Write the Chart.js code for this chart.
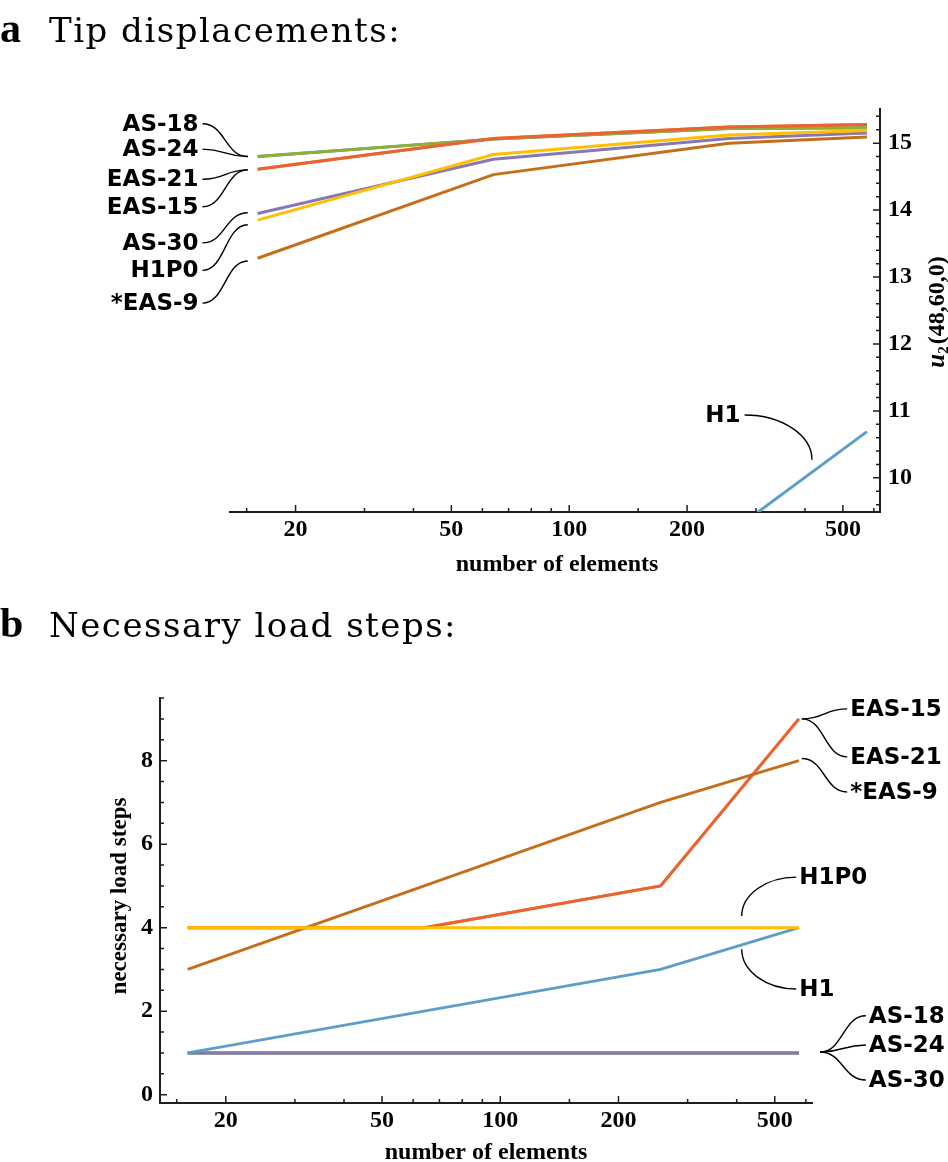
<!DOCTYPE html>
<html>
<head>
<meta charset="utf-8">
<script src="https://cdn.jsdelivr.net/npm/chart.js@4.4.1/dist/chart.umd.min.js"></script>
<style>
  html, body { margin: 0; padding: 0; background: #fff; }
  body { width: 948px; height: 1162px; position: relative; overflow: hidden; }
  #chartA { position: absolute; left: 0; top: 0; }
  #chartB { position: absolute; left: 0; top: 590px; }
</style>
</head>
<body>
<canvas id="chartA" width="948" height="600"></canvas>
<canvas id="chartB" width="948" height="572"></canvas>
<script>
// Mesh sizes (number of elements)
const elements = [16, 64, 256, 576];

// Series, in drawing order (later ones lie on top)
const seriesNames  = ['AS-18', 'EAS-15', 'AS-24', 'EAS-21', 'AS-30', '*EAS-9', 'H1', 'H1P0'];
const seriesColors = ['#5e81b5', '#e19c24', '#8fb032', '#eb6235', '#8778b3', '#c56e1a', '#5d9ec7', '#ffbf00'];

// a: tip displacement u2(48,60,0)
const dispAS18  = [14.80, 15.06, 15.22, 15.23];
const dispEAS15 = [14.61, 15.07, 15.24, 15.28];
const dispAS24  = [14.80, 15.06, 15.22, 15.23];
const dispEAS21 = [14.61, 15.07, 15.24, 15.28];
const dispAS30  = [13.95, 14.76, 15.07, 15.15];
const dispEAS9  = [13.28, 14.53, 15.00, 15.09];
const dispH1    = [4.2, 6.6, 9.17, 10.69];
const dispH1P0  = [13.85, 14.83, 15.12, 15.19];

// b: necessary load steps
const stepsAS18  = [1, 1, 1, 1];
const stepsEAS15 = [4, 4, 5, 9];
const stepsAS24  = [1, 1, 1, 1];
const stepsEAS21 = [4, 4, 5, 9];
const stepsAS30  = [1, 1, 1, 1];
const stepsEAS9  = [3, 5, 7, 8];
const stepsH1    = [1, 2, 3, 4];
const stepsH1P0  = [4, 4, 4, 4];

// Tick values
const xMajorTicks = [20, 50, 100, 200, 500];
const xMinorTicks = [15, 30, 40, 60, 70, 80, 90, 150, 300, 400, 600];
const dispMajorTicks = [10, 11, 12, 13, 14, 15];
const dispMinorTicks = [9.6, 9.8, 10.2, 10.4, 10.6, 10.8, 11.2, 11.4, 11.6, 11.8, 12.2, 12.4,
                        12.6, 12.8, 13.2, 13.4, 13.6, 13.8, 14.2, 14.4, 14.6, 14.8, 15.2, 15.4];
const stepsMajorTicks = [0, 2, 4, 6, 8];
const stepsMinorTicks = [0.5, 1, 1.5, 2.5, 3, 3.5, 4.5, 5, 5.5, 6.5, 7, 7.5, 8.5, 9, 9.5];

// Callouts: text, text x, text y, leader target x, target y, leader shape
const calloutsA = [
    ['AS-18', 11.3, 15.29, 15.1, 14.80, 'S'],
    ['AS-24', 11.3, 14.91, 15.1, 14.80, 'S'],
    ['EAS-21', 11.3, 14.46, 15.1, 14.60, 'S'],
    ['EAS-15', 11.3, 14.05, 15.1, 14.60, 'S'],
    ['AS-30', 11.3, 13.51, 15.1, 13.96, 'S'],
    ['H1P0', 11.3, 13.10, 15.1, 13.78, 'S'],
    ['*EAS-9', 11.3, 12.61, 15.1, 13.24, 'S'],
    ['H1', 274, 10.94, 417, 10.27, 'C']
];
const calloutsB = [
    ['EAS-15', 778, 9.24, 586, 9.0, 'S'],
    ['EAS-21', 778, 8.09, 586, 9.0, 'S'],
    ['*EAS-9', 778, 7.25, 586, 8.05, 'S'],
    ['H1P0', 577, 5.21, 412, 4.28, 'C'],
    ['H1', 577, 2.53, 412, 3.48, 'C'],
    ['AS-18', 868, 1.89, 652, 1.02, 'S'],
    ['AS-24', 868, 1.19, 652, 1.02, 'S'],
    ['AS-30', 868, 0.35, 652, 1.02, 'S']
];

const axisColor = '#1e1e1e';
const serif = "'Liberation Serif', 'Times New Roman', serif";
const tickFont = { family: serif, size: 24, weight: 'bold' };

function makeDatasets(values) {
    return seriesNames.map((name, i) => ({
        label: name,
        data: elements.map((n, j) => ({ x: n, y: values[i][j] })),
        borderColor: seriesColors[i],
        borderWidth: 3,
        pointRadius: 0,
        tension: 0,
        fill: false,
        order: seriesNames.length - i   // later series drawn on top
    }));
}

function drawTicks(chart, yMajor, yMinor, side) {
    const ctx = chart.ctx;
    const area = chart.chartArea;
    const xs = chart.scales.x, ys = chart.scales.y;
    ctx.save();
    ctx.strokeStyle = axisColor;
    ctx.lineWidth = 1.5;
    ctx.beginPath();
    const xTick = (v, len) => {
        const p = xs.getPixelForValue(v);
        ctx.moveTo(p, area.bottom);
        ctx.lineTo(p, area.bottom - len);
    };
    const yTick = (v, len) => {
        const p = ys.getPixelForValue(v);
        const x0 = side === 'right' ? area.right : area.left;
        ctx.moveTo(x0, p);
        ctx.lineTo(side === 'right' ? x0 - len : x0 + len, p);
    };
    xMajorTicks.forEach(v => xTick(v, 7));
    xMinorTicks.forEach(v => xTick(v, 4));
    yMajor.forEach(v => yTick(v, 7));
    yMinor.forEach(v => yTick(v, 4));
    ctx.stroke();
    ctx.restore();
}

function drawCallouts(chart, callouts, align) {
    const ctx = chart.ctx;
    const xs = chart.scales.x, ys = chart.scales.y;
    ctx.save();
    ctx.font = "bold 23px 'DejaVu Sans', sans-serif";
    ctx.fillStyle = '#000';
    ctx.strokeStyle = '#000';
    ctx.lineWidth = 1.4;
    ctx.textAlign = align;
    ctx.textBaseline = 'middle';
    callouts.forEach(([text, tx, ty, px, py, shape]) => {
        const x1 = xs.getPixelForValue(tx), y1 = ys.getPixelForValue(ty);
        const x0 = xs.getPixelForValue(px), y0 = ys.getPixelForValue(py);
        const sx = align === 'right' ? x1 + 4 : x1 - 3;
        ctx.fillText(text, x1, y1 + 1);
        ctx.beginPath();
        ctx.moveTo(x0, y0);
        if (shape === 'S') {
            const mx = x0 + (sx - x0) * 0.5;
            ctx.bezierCurveTo(mx, y0, mx, y1, sx, y1);
        } else {
            ctx.bezierCurveTo(x0, y0 + (y1 - y0) * 0.55, x0 + (sx - x0) * 0.45, y1, sx, y1);
        }
        ctx.stroke();
    });
    ctx.restore();
}

function drawPanelTitle(ctx, letter, text, baseline) {
    ctx.save();
    ctx.fillStyle = '#000';
    ctx.textAlign = 'left';
    ctx.textBaseline = 'alphabetic';
    ctx.font = 'bold 42px ' + serif;
    ctx.fillText(letter, 0, baseline);
    ctx.font = "34px 'DejaVu Serif', serif";
    ctx.letterSpacing = '1.5px';
    ctx.fillText(text, 49, baseline);
    ctx.restore();
}

function drawXTitle(ctx, x, y) {
    ctx.save();
    ctx.fillStyle = '#000';
    ctx.font = 'bold 24px ' + serif;
    ctx.textAlign = 'center';
    ctx.textBaseline = 'middle';
    ctx.fillText('number of elements', x, y);
    ctx.restore();
}

const decorA = {
    id: 'decorA',
    afterDraw(chart) {
        const ctx = chart.ctx;
        drawTicks(chart, dispMajorTicks, dispMinorTicks, 'right');
        drawCallouts(chart, calloutsA, 'right');
        drawPanelTitle(ctx, 'a', 'Tip displacements:', 42);
        drawXTitle(ctx, 557, 565);
        // y title: u2(48,60,0), rotated
        ctx.save();
        ctx.translate(938, 312);
        ctx.rotate(-Math.PI / 2);
        ctx.fillStyle = '#000';
        ctx.textBaseline = 'middle';
        ctx.textAlign = 'left';
        const fU = 'italic bold 25px ' + serif;
        const fSub = 'bold 15px ' + serif;
        const fRest = 'bold 24px ' + serif;
        ctx.font = fU; const wU = ctx.measureText('u').width;
        ctx.font = fSub; const wS = ctx.measureText('2').width;
        ctx.font = fRest; const wR = ctx.measureText('(48,60,0)').width;
        let x = -(wU + wS + wR + 2) / 2;
        ctx.font = fU; ctx.fillText('u', x, 0); x += wU;
        ctx.font = fSub; ctx.fillText('2', x, 6); x += wS + 2;
        ctx.font = fRest; ctx.fillText('(48,60,0)', x, 0);
        ctx.restore();
    }
};

const decorB = {
    id: 'decorB',
    afterDraw(chart) {
        const ctx = chart.ctx;
        drawTicks(chart, stepsMajorTicks, stepsMinorTicks, 'left');
        drawCallouts(chart, calloutsB, 'left');
        drawPanelTitle(ctx, 'b', 'Necessary load steps:', 47);
        drawXTitle(ctx, 486, 563);
        ctx.save();
        ctx.translate(120, 306);
        ctx.rotate(-Math.PI / 2);
        ctx.fillStyle = '#000';
        ctx.font = 'bold 23px ' + serif;
        ctx.textAlign = 'center';
        ctx.textBaseline = 'middle';
        ctx.fillText('necessary load steps', 0, 0);
        ctx.restore();
    }
};

function xScale() {
    return {
        type: 'logarithmic',
        position: 'bottom',
        min: 13.6,
        max: 622,
        afterBuildTicks: s => { s.ticks = xMajorTicks.map(v => ({ value: v })); },
        afterFit: s => { s.height = 50; },
        grid: { display: false, drawTicks: false },
        border: { display: true, color: axisColor, width: 2 },
        ticks: {
            autoSkip: false,
            maxRotation: 0,
            padding: 3,
            color: '#000',
            font: tickFont,
            callback: v => String(v)
        }
    };
}

new Chart(document.getElementById('chartA'), {
    type: 'line',
    data: {
        datasets: makeDatasets([dispAS18, dispEAS15, dispAS24, dispEAS21, dispAS30, dispEAS9, dispH1, dispH1P0])
    },
    options: {
        responsive: false,
        animation: false,
        layout: { autoPadding: false, padding: { left: 230, top: 109, right: 18, bottom: 38 } },
        plugins: { legend: { display: false }, tooltip: { enabled: false } },
        scales: {
            x: xScale(),
            y: {
                type: 'linear',
                position: 'right',
                min: 9.49,
                max: 15.51,
                afterBuildTicks: s => { s.ticks = dispMajorTicks.map(v => ({ value: v })); },
                afterFit: s => { s.width = 50; },
                grid: { display: false, drawTicks: false },
                border: { display: true, color: axisColor, width: 2 },
                ticks: { padding: 8, color: '#000', font: tickFont, callback: v => String(v) }
            }
        }
    },
    plugins: [decorA]
});

new Chart(document.getElementById('chartB'), {
    type: 'line',
    data: {
        datasets: makeDatasets([stepsAS18, stepsEAS15, stepsAS24, stepsEAS21, stepsAS30, stepsEAS9, stepsH1, stepsH1P0])
    },
    options: {
        responsive: false,
        animation: false,
        layout: { autoPadding: false, padding: { left: 0, top: 108, right: 136, bottom: 9 } },
        plugins: { legend: { display: false }, tooltip: { enabled: false } },
        scales: {
            x: xScale(),
            y: {
                type: 'linear',
                position: 'left',
                min: -0.2,
                max: 9.5,
                afterBuildTicks: s => { s.ticks = stepsMajorTicks.map(v => ({ value: v })); },
                afterFit: s => { s.width = 160; },
                grid: { display: false, drawTicks: false },
                border: { display: true, color: axisColor, width: 2 },
                ticks: { padding: 7, color: '#000', font: tickFont, callback: v => String(v) }
            }
        }
    },
    plugins: [decorB]
});
</script>
</body>
</html>
